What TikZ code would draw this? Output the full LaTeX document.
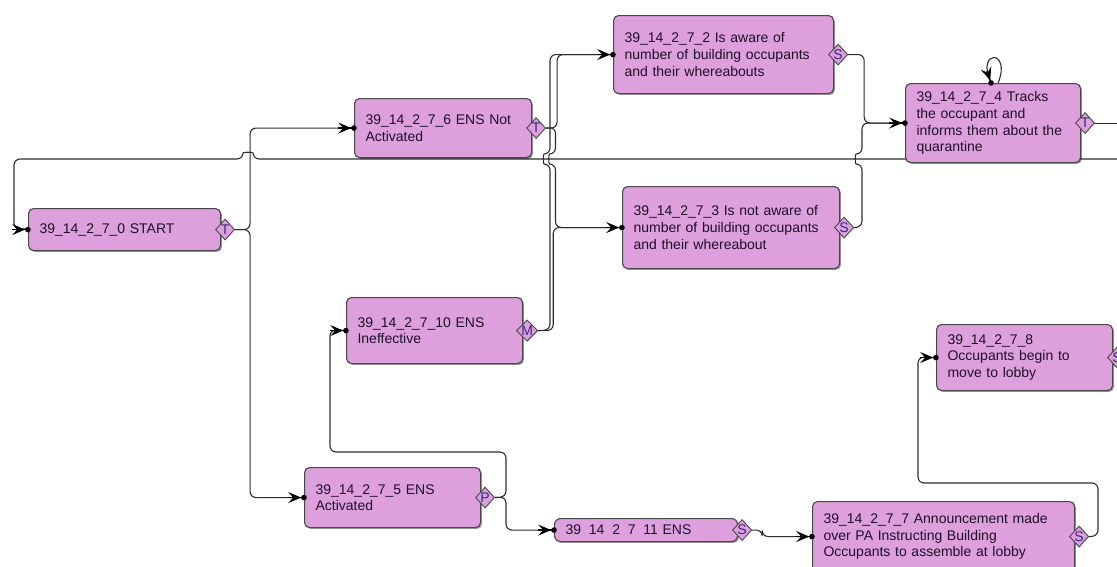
\documentclass[tikz,border=0pt]{standalone}
\usepackage{fontspec}
\setmainfont{Liberation Sans}
\usetikzlibrary{shapes.geometric,arrows.meta,shadows}

\definecolor{plumfill}{RGB}{221,160,221}
\definecolor{boxline}{RGB}{72,72,72}
\definecolor{wirecol}{RGB}{45,45,45}
\definecolor{ink}{RGB}{30,15,40}
\definecolor{tagink}{RGB}{55,40,130}

\tikzset{
  stepbox/.style={draw=boxline, fill=plumfill, rounded corners=5pt, line width=1.1pt,
    anchor=north west, inner xsep=11pt, inner ysep=0pt, align=left, text=ink,
    font=\fontsize{14}{16.7}\selectfont,
    drop shadow={shadow xshift=1.4pt, shadow yshift=-1.4pt, fill=black, opacity=0.4}},
  tagdia/.style={diamond, draw=boxline, fill=plumfill, line width=0.9pt, inner sep=0pt,
    minimum width=19pt, minimum height=21pt, text=tagink, font=\fontsize{14}{14}\selectfont},
  wire/.style={draw=wirecol, line width=1.1pt, rounded corners=6pt},
  tipend/.style={draw=black, fill=black, line width=1.2pt,
    -{Stealth[length=13pt,width=11pt,inset=5pt]Circle[length=5.5pt]}, shorten >=-2.7pt},
}

\begin{document}
\begin{tikzpicture}[x=1pt, y=-1pt]
\clip (0,0) rectangle (1117,566);
\fill[white] (0,0) rectangle (1117,566);

% free ends of the two lines that leave on the right
\coordinate (retin) at (1117,159);
\coordinate (rightout) at (1117,123);

% return line, drawn first so that boxes sit over it
\draw[wire] (retin) -- (253,159) .. controls (253,152) and (243,152) .. (243,159)
  -- (14,159) -- (14,229) -- (28,229);

% step boxes
\node[stepbox, minimum width=192pt, minimum height=42pt, text width=170pt] (start) at (28,208) {39\_14\_2\_7\_0 START};
\node[stepbox, minimum width=177pt, minimum height=59pt, text width=155pt] (n6) at (354,98) {39\_14\_2\_7\_6 ENS Not\\Activated};
\node[stepbox, minimum width=220pt, minimum height=78pt, text width=198pt] (n2) at (613,15) {39\_14\_2\_7\_2 Is aware of\\number of building occupants\\and their whereabouts};
\node[stepbox, minimum width=175pt, minimum height=79pt, text width=153pt] (n4) at (905,83) {39\_14\_2\_7\_4 Tracks\\the occupant and\\informs them about the\\quarantine};
\node[stepbox, minimum width=217pt, minimum height=82pt, text width=195pt] (n3) at (622,186) {39\_14\_2\_7\_3 Is not aware of\\number of building occupants\\and their whereabout};
\node[stepbox, minimum width=176pt, minimum height=66pt, text width=154pt] (n10) at (346,297) {39\_14\_2\_7\_10 ENS\\Ineffective};
\node[stepbox, minimum width=176pt, minimum height=60pt, text width=154pt] (n5) at (304,467) {39\_14\_2\_7\_5 ENS\\Activated};
\node[stepbox, minimum width=183pt, minimum height=23pt, text width=161pt, rounded corners=6pt] (n11) at (554,518) {39\hphantom{\_}14\hphantom{\_}2\hphantom{\_}7\hphantom{\_}11 ENS};
\node[stepbox, minimum width=262pt, minimum height=70pt, text width=240pt] (n7) at (812,501) {39\_14\_2\_7\_7 Announcement made\\over PA Instructing Building\\Occupants to assemble at lobby};
\node[stepbox, minimum width=176pt, minimum height=66pt, text width=154pt] (n8) at (936,324) {39\_14\_2\_7\_8\\Occupants begin to\\move to lobby};

% outcome tags
\node[tagdia] (startT) at ([xshift=4pt]start.east) {T};
\node[tagdia] (n6T) at ([xshift=4pt]n6.east) {T};
\node[tagdia] (n2S) at ([xshift=4pt]n2.east) {S};
\node[tagdia] (n4T) at ([xshift=4pt]n4.east) {T};
\node[tagdia] (n3S) at ([xshift=4pt]n3.east) {S};
\node[tagdia] (n10M) at ([xshift=4pt]n10.east) {M};
\node[tagdia] (n5P) at ([xshift=4pt]n5.east) {P};
\node[tagdia] (n11S) at ([xshift=4pt]n11.east) {S};
\node[tagdia] (n7S) at ([xshift=4pt]n7.east) {S};
\node[tagdia] (n8S) at ([xshift=4pt]n8.east) {S};

% connectors
\draw[wire] (n4T.east) -- (n4T.east -| rightout);
\draw[wire] (startT.east) -- ++(15,0) |- (n6.west);
\draw[wire] (startT.east) -- ++(15,0) |- (n5.west);
\draw[wire] (n6T.east) -- ++(11,0) |- (n2.west);
\draw[wire] (n6T.east) -- (555.5,127.5) -- (555.5,154) .. controls (548.5,154) and (548.5,164) .. (555.5,164) |- (n3.west);
\draw[wire] (n10M.east) -- ++(15,0) |- (n3.west);
\draw[wire] (n10M.east) -- (550,330) -- (550,164) .. controls (543,164) and (543,154) .. (550,154) |- (n2.west);
\draw[wire] (n2S.east) -- ++(16,0) |- (n4.west);
\draw[wire] (n3S.east) -- (862,227) -- (862,164) .. controls (855,164) and (855,154) .. (862,154) |- (n4.west);
\draw[wire] ([xshift=5pt]n4.north) .. controls +(14,-34) and +(-16,-34) .. ([xshift=-2pt]n4.north);
\draw[wire] (n5P.east) -- (506,497) -- (506,452) -- (330,452) -- (330,330) -- (n10.west);
\draw[wire] (n5P.east) -- (506,497) |- (n11.west);
\draw[wire] (n11S.east) -- ++(10,0) |- (n7.west);
\draw[wire] (n7S.east) -- (1098,536) -- (1098,483) -- (918,483) -- (918,357) -- (n8.west);

% arrow tips where the connectors meet the boxes
\foreach \target in {start, n6, n2, n3, n4, n10, n5, n11, n7, n8}
  \draw[tipend] ([xshift=-16pt]\target.west) -- (\target.west);
\draw[tipend] ([xshift=-6pt,yshift=12pt]n4.north) -- ([xshift=-2pt]n4.north);
\end{tikzpicture}
\end{document}
